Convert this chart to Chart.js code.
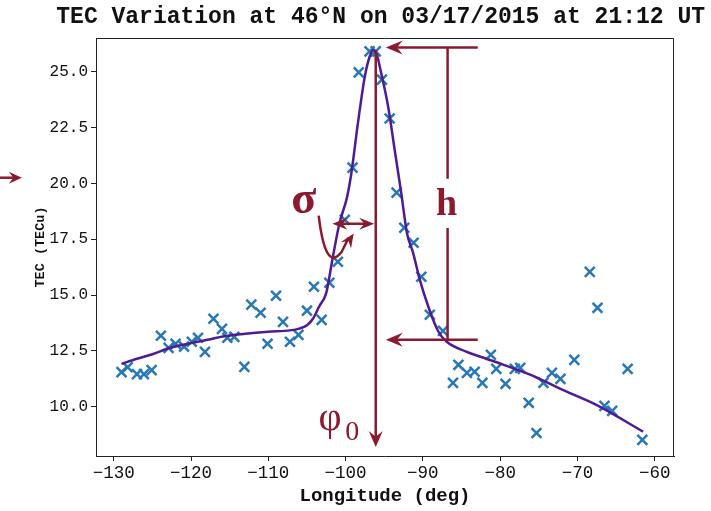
<!DOCTYPE html>
<html>
<head>
<meta charset="utf-8">
<script src="https://cdn.jsdelivr.net/npm/chart.js@4.4.1/dist/chart.umd.min.js"></script>
<style>
  body { margin: 0; background: #fff; }
</style>
</head>
<body>
<canvas id="myChart" width="711" height="511"></canvas>
<script>
// measured TEC samples (longitude in deg, TEC in TECu)
let obsLon = [-129.0, -128.2, -127.0, -126.1, -125.1, -123.9, -122.9, -122.0, -120.9, -119.9,
  -119.1, -118.2, -117.1, -116.0, -115.3, -114.4, -113.1, -112.2, -111.0, -110.1,
  -109.0, -108.1, -107.2, -106.1, -105.0, -104.1, -103.1, -102.1, -101.0, -100.1,
  -99.1, -98.3, -96.9, -96.1, -95.3, -94.3, -93.4, -92.4, -91.2, -90.2,
  -89.1, -87.4, -86.1, -85.4, -84.3, -83.3, -82.3, -81.2, -80.5, -79.3,
  -78.1, -77.4, -76.3, -75.3, -74.4, -73.3, -72.2, -70.4, -68.4, -67.4,
  -66.5, -65.5, -63.5, -61.6];
let obsTec = [11.55, 11.77, 11.46, 11.46, 11.64, 13.18, 12.64, 12.82, 12.69, 12.91,
  13.09, 12.46, 13.94, 13.49, 13.09, 13.13, 11.79, 14.57, 14.21, 12.82,
  14.97, 13.80, 12.91, 13.22, 14.30, 15.37, 13.89, 15.55, 16.49, 18.37,
  20.70, 24.96, 25.90, 25.90, 24.64, 22.90, 19.58, 18.01, 17.34, 15.82,
  14.12, 13.40, 11.07, 11.88, 11.52, 11.57, 11.07, 12.33, 11.70, 11.03,
  11.70, 11.74, 10.18, 8.83, 11.07, 11.52, 11.25, 12.10, 16.04, 14.43,
  10.04, 9.82, 11.70, 8.52];

// fitted curve
let fitLon = [-129.0, -127.0, -125.0, -122.8, -120.0, -117.5, -115.9, -113.0, -110.0, -107.2,
  -106.0, -105.0, -104.2, -103.4, -102.5, -101.7, -100.8, -99.8, -99.25, -98.4,
  -97.5, -96.9, -96.45, -96.0, -95.4, -94.5, -93.65, -92.8, -92.06, -91.27,
  -90.4, -89.3, -88.0, -86.95, -84.4, -82.65, -80.1, -76.2, -74.9, -71.9,
  -67.55, -61.5];
let fitTec = [11.92, 12.15, 12.35, 12.63, 12.85, 13.02, 13.15, 13.27, 13.36, 13.42,
  13.50, 13.65, 13.95, 14.50, 15.10, 16.60, 18.20, 19.40, 20.46, 22.70,
  24.80, 25.65, 25.95, 25.80, 24.94, 23.45, 21.50, 19.57, 17.78, 16.90,
  15.69, 14.49, 13.37, 12.92, 12.47, 12.25, 11.95, 11.45, 11.25, 10.76,
  10.09, 8.89];

let xTicks = [-130, -120, -110, -100, -90, -80, -70, -60];
let yTicks = [10.0, 12.5, 15.0, 17.5, 20.0, 22.5, 25.0];

// annotation anchors in data units
const phi0 = -96.1;
const peakTec = 26.07;
const baseTec = 13.0;
const phiTipTec = 8.2;
const hLon = -86.8;
const arrowTailLon = -82.9;
const arrowTipLon = -94.8;
const sigmaTec = 18.19;
const sigmaLeft = -101.7;
const sigmaRight = -96.3;

const maroon = '#8b1a2e';

function arrowHead(ctx, tx, ty, ang, len, half) {
  ctx.save();
  ctx.translate(tx, ty);
  ctx.rotate(ang);
  ctx.beginPath();
  ctx.moveTo(0, 0);
  ctx.lineTo(-len, -half);
  ctx.lineTo(-len * 0.65, 0);
  ctx.lineTo(-len, half);
  ctx.closePath();
  ctx.fill();
  ctx.restore();
}

const annotPlugin = {
  id: 'annot',
  afterDatasetsDraw(chart) {
    const { ctx, chartArea: a, scales: { x, y } } = chart;
    const px = v => x.getPixelForValue(v);
    const py = v => y.getPixelForValue(v);
    ctx.save();
    // frame top & right
    ctx.strokeStyle = '#222';
    ctx.lineWidth = 1;
    ctx.beginPath();
    ctx.moveTo(a.left, a.top + 0.5);
    ctx.lineTo(a.right - 0.5, a.top + 0.5);
    ctx.lineTo(a.right - 0.5, a.bottom);
    ctx.stroke();

    ctx.strokeStyle = maroon;
    ctx.fillStyle = maroon;
    ctx.lineWidth = 2.5;
    ctx.lineCap = 'butt';

    // phi0 vertical line with down arrow
    ctx.beginPath();
    ctx.moveTo(px(phi0), py(25.95));
    ctx.lineTo(px(phi0), py(phiTipTec) - 8);
    ctx.stroke();
    arrowHead(ctx, px(phi0), py(phiTipTec), Math.PI / 2, 16, 7);

    // top arrow to the peak
    ctx.beginPath();
    ctx.moveTo(px(arrowTailLon), py(peakTec));
    ctx.lineTo(px(arrowTipLon) + 8, py(peakTec));
    ctx.stroke();
    arrowHead(ctx, px(arrowTipLon), py(peakTec), Math.PI, 17, 7);

    // bottom arrow to the base
    ctx.beginPath();
    ctx.moveTo(px(arrowTailLon), py(baseTec));
    ctx.lineTo(px(arrowTipLon) + 8, py(baseTec));
    ctx.stroke();
    arrowHead(ctx, px(arrowTipLon), py(baseTec), Math.PI, 17, 7);

    // h line with a gap for the label
    ctx.beginPath();
    ctx.moveTo(px(hLon), py(peakTec));
    ctx.lineTo(px(hLon), py(20.2));
    ctx.moveTo(px(hLon), py(18.0));
    ctx.lineTo(px(hLon), py(baseTec));
    ctx.stroke();

    // sigma double arrow
    ctx.beginPath();
    ctx.moveTo(px(sigmaLeft) + 8, py(sigmaTec));
    ctx.lineTo(px(sigmaRight) - 8, py(sigmaTec));
    ctx.stroke();
    arrowHead(ctx, px(sigmaLeft), py(sigmaTec), Math.PI, 15, 6);
    arrowHead(ctx, px(sigmaRight), py(sigmaTec), 0, 15, 6);

    // sigma pointer
    const sx = px(-103.48), sy = py(18.55);
    const ex = px(-100.5), ey = py(16.94);
    const tx = px(-98.95), ty = py(17.75);
    ctx.beginPath();
    ctx.moveTo(sx, sy);
    ctx.bezierCurveTo(px(-102.96), py(17.03), px(-102.06), py(16.22), ex, ey);
    ctx.lineTo(tx - 5, ty + 4);
    ctx.stroke();
    arrowHead(ctx, tx, ty, Math.atan2(ty - ey, tx - ex), 14, 6);

    // arrow cut off at the left margin
    ctx.beginPath();
    ctx.moveTo(px(-144.8), py(20.25));
    ctx.lineTo(px(-142.9), py(20.25));
    ctx.stroke();
    arrowHead(ctx, px(-141.9), py(20.25), 0, 13, 6);

    // labels
    ctx.textAlign = 'center';
    ctx.textBaseline = 'alphabetic';
    ctx.font = 'bold 46px "Liberation Serif", "DejaVu Serif", serif';
    ctx.fillText('σ', px(-105.42), py(18.69));
    ctx.font = 'bold 38px "Liberation Serif", "DejaVu Serif", serif';
    ctx.fillText('h', px(-86.92), py(18.6));
    ctx.font = '40px "Liberation Serif", "DejaVu Serif", serif';
    ctx.fillText('φ', px(-102.0), py(8.95));
    ctx.font = '28px "Liberation Serif", "DejaVu Serif", serif';
    ctx.fillText('0', px(-99.15), py(8.52));
    ctx.restore();
  }
};

const monoFont = '"Liberation Mono", "DejaVu Sans Mono", monospace';

const ctx = document.getElementById('myChart').getContext('2d');
const myChart = new Chart(ctx, {
  type: 'scatter',
  data: {
    datasets: [
      {
        label: 'fit',
        data: fitLon.map((v, i) => ({ x: v, y: fitTec[i] })),
        showLine: true,
        borderColor: '#4f1a96',
        borderWidth: 2.5,
        pointRadius: 0,
        cubicInterpolationMode: 'monotone',
        order: 0
      },
      {
        label: 'TEC',
        data: obsLon.map((v, i) => ({ x: v, y: obsTec[i] })),
        pointStyle: 'crossRot',
        pointRadius: 7,
        borderColor: '#2878b5',
        borderWidth: 2.5,
        order: 1
      }
    ]
  },
  options: {
    responsive: false,
    animation: false,
    devicePixelRatio: 1,
    layout: { padding: { left: 0, right: 6, top: 0, bottom: 0 } },
    plugins: {
      legend: { display: false },
      tooltip: { enabled: false },
      title: {
        display: true,
        text: 'TEC Variation at 46°N on 03/17/2015 at 21:12 UT',
        align: 'end',
        color: '#111',
        font: { family: monoFont, size: 23, weight: 'bold' },
        padding: { top: 3, bottom: 7.4 }
      }
    },
    scales: {
      x: {
        type: 'linear',
        min: -132.3,
        max: -57.5,
        afterBuildTicks: s => { s.ticks = xTicks.map(v => ({ value: v })); },
        afterFit: s => { s.height = 55; },
        grid: { drawOnChartArea: false, drawTicks: true, tickLength: 5, color: '#222' },
        border: { display: true, color: '#222', width: 1 },
        ticks: {
          color: '#111',
          padding: 2,
          maxRotation: 0,
          font: { family: monoFont, size: 17.5 },
          callback: v => String(v).replace('-', '\u2212')
        },
        title: {
          display: true,
          text: 'Longitude (deg)',
          color: '#111',
          font: { family: monoFont, size: 19, weight: 'bold' },
          padding: { top: 0, bottom: 3 }
        }
      },
      y: {
        type: 'linear',
        min: 7.8,
        max: 26.5,
        afterBuildTicks: s => { s.ticks = yTicks.map(v => ({ value: v })); },
        afterFit: s => { s.width = 96; },
        grid: { drawOnChartArea: false, drawTicks: true, tickLength: 5, color: '#222' },
        border: { display: true, color: '#222', width: 1 },
        ticks: {
          color: '#111',
          padding: 3,
          font: { family: monoFont, size: 16 },
          callback: v => Number(v).toFixed(1)
        },
        title: {
          display: true,
          text: 'TEC (TECu)',
          color: '#111',
          font: { family: monoFont, size: 13.5, weight: 'bold' },
          padding: { top: 32, bottom: 0 }
        }
      },
      yRight: {
        type: 'linear',
        position: 'right',
        display: true,
        min: 0,
        max: 1,
        afterFit: s => { s.width = 31; },
        grid: { display: false },
        border: { display: false },
        ticks: { display: false }
      }
    }
  },
  plugins: [annotPlugin]
});
</script>
</body>
</html>
